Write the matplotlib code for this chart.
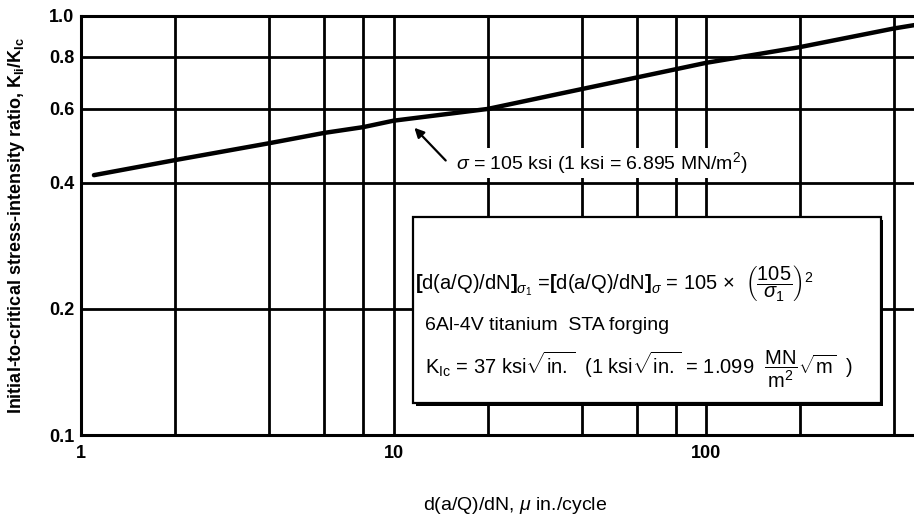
import matplotlib
matplotlib.use("Agg")
import matplotlib.pyplot as plt
from matplotlib.patches import Rectangle
import matplotlib.patheffects as pe

plt.rcParams['font.family'] = ['Liberation Sans', 'DejaVu Sans']
plt.rcParams['mathtext.fontset'] = 'custom'
plt.rcParams['mathtext.rm'] = 'Liberation Sans'
plt.rcParams['mathtext.it'] = 'Liberation Sans:italic'
plt.rcParams['mathtext.bf'] = 'Liberation Sans:bold'

# crack growth rate (micro in./cycle) vs Ki/Kic
rate = [1.1, 2, 4, 6, 8, 10, 20, 100, 200, 400, 480]
ratio = [0.417, 0.453, 0.497, 0.526, 0.543, 0.5625, 0.60, 0.773, 0.843, 0.934, 0.955]

x_major = [1, 10, 100]
x_major_labels = ['1', '10', '100']
x_minor = [2, 4, 6, 8, 20, 40, 60, 80, 200, 400]
y_ticks = [0.1, 0.2, 0.4, 0.6, 0.8, 1.0]
y_labels = ['0.1', '0.2', '0.4', '0.6', '0.8', '1.0']

fig = plt.figure(figsize=(9.14, 5.16), dpi=100)
ax = fig.add_axes([81/914, 81/516, 833/914, 419/516])

ax.plot(rate, ratio, color='k', lw=3.2, solid_capstyle='round', zorder=2)

ax.set_xscale('log')
ax.set_yscale('log')
ax.set_xlim(1, 463)
ax.set_ylim(0.1, 1.0)

ax.set_xticks(x_major)
ax.set_xticklabels(x_major_labels)
ax.set_xticks(x_minor, minor=True)
ax.set_xticklabels([], minor=True)
ax.set_yticks(y_ticks)
ax.set_yticklabels(y_labels)
ax.set_yticks([], minor=True)

ax.grid(which='both', color='k', lw=2.0)
ax.tick_params(which='both', length=0)
ax.tick_params(axis='y', pad=5, labelsize=13)
ax.tick_params(axis='x', pad=7, labelsize=13)
for lab in ax.get_xticklabels() + ax.get_yticklabels():
    lab.set_fontweight('bold')

for s in ['left', 'bottom', 'top']:
    ax.spines[s].set_linewidth(2.2)
ax.spines['right'].set_visible(False)

ax.set_ylabel(r'Initial-to-critical stress-intensity ratio, $\mathbf{K_{Ii}/K_{Ic}}$',
              fontsize=13, fontweight='bold')
ax.yaxis.set_label_coords(-0.065, 0.5)
ax.set_xlabel(r'd(a/Q)/dN, $\mu$ in./cycle', fontsize=14)
ax.xaxis.set_label_coords(0.521, -0.143)

# arrow and label for the curve
ax.annotate('', xy=(11.5, 0.547), xytext=(14.9, 0.447),
            arrowprops=dict(arrowstyle='-|>', color='k', lw=1.6, mutation_scale=14),
            zorder=5)
ax.text(15.8, 0.446, r'$\sigma$ = 105 ksi (1 ksi = 6.895 MN/m$^2$)', fontsize=14,
        ha='left', va='center', zorder=5,
        bbox=dict(facecolor='white', edgecolor='none', pad=1.5))

# note box
box = Rectangle((0.3986, 0.0764), 0.5614, 0.4436, transform=ax.transAxes,
                facecolor='white', edgecolor='k', lw=1.6, zorder=3,
                path_effects=[pe.SimplePatchShadow(offset=(2, -2), shadow_rgbFace='k', alpha=1),
                              pe.Normal()])
ax.add_patch(box)

ax.text(0.401, 0.363,
        r'$\mathbf{[}$d(a/Q)/dN$\mathbf{]}_{\sigma_1}$ =$\mathbf{[}$d(a/Q)/dN$\mathbf{]}_{\sigma}$ = 105 $\times$  '
        r'$\left(\dfrac{105}{\sigma_1}\right)^2$',
        transform=ax.transAxes, fontsize=14.5, ha='left', va='center', zorder=4)
ax.text(0.413, 0.2625, '6Al-4V titanium  STA forging', transform=ax.transAxes,
        fontsize=14, ha='left', va='center', zorder=4)
ax.text(0.413, 0.158,
        r'K$_{\mathrm{Ic}}$ = 37 ksi$\sqrt{\mathrm{in.}}$  (1 ksi$\sqrt{\mathrm{in.}}$ = 1.099  '
        r'$\dfrac{\mathrm{MN}}{\mathrm{m^2}}\sqrt{\mathrm{m}}$  )',
        transform=ax.transAxes, fontsize=14.5, ha='left', va='center', zorder=4)

fig.savefig('out.png', dpi=100)
